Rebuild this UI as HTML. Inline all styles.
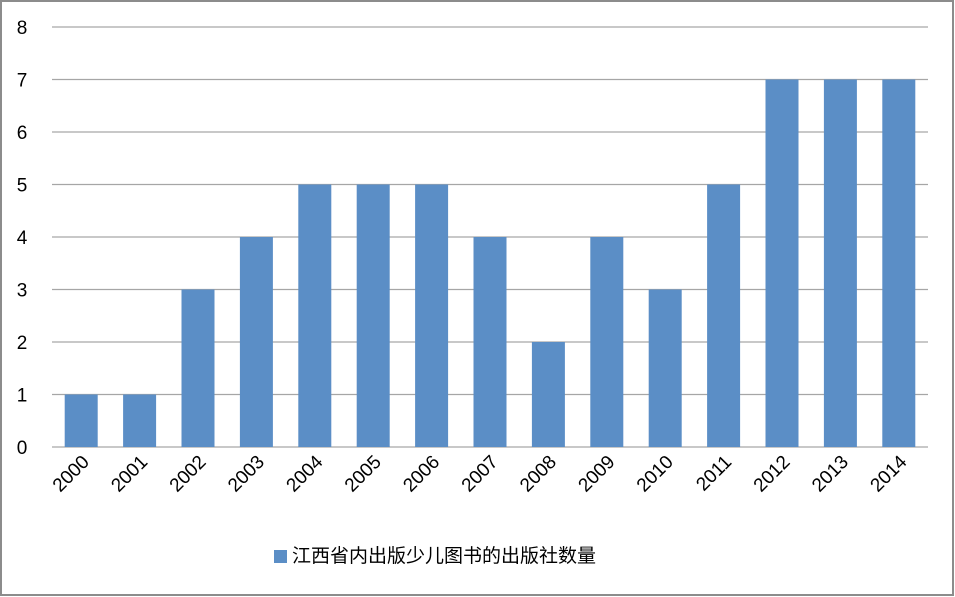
<!DOCTYPE html>
<html><head><meta charset="utf-8"><style>
html,body{margin:0;padding:0;background:#fff}
svg{display:block}
text{font-family:"Liberation Sans","Noto Sans CJK SC",sans-serif;fill:#000}
</style></head><body>
<svg width="955" height="597">
<rect x="1" y="1" width="952" height="594" fill="#fff" stroke="#8c8c8c" stroke-width="2"/>
<g id="grid"></g><g id="bars"></g><g id="ylabels"></g><g id="xlabels"></g>
<rect x="274" y="550" width="13" height="13" fill="#5b8ec6"/>
<text x="292" y="562" font-size="19">江西省内出版少儿图书的出版社数量</text>
</svg>
<script>
const categories=["2000","2001","2002","2003","2004","2005","2006","2007","2008","2009","2010","2011","2012","2013","2014"];
const values=[1,1,3,4,5,5,5,4,2,4,3,5,7,7,7];
const yTicks=[0,1,2,3,4,5,6,7,8];
const NS="http://www.w3.org/2000/svg";
const L=52,R=928,T=27,B=447,ymax=8;
const y=v=>B-(B-T)*v/ymax;
const band=(R-L)/categories.length;
const xc=i=>L+band*(i+0.5);
function mk(tag,attrs,parent){const e=document.createElementNS(NS,tag);for(const k in attrs)e.setAttribute(k,attrs[k]);document.getElementById(parent).appendChild(e);return e;}
yTicks.forEach(t=>{
 const g=mk('line',{x1:L,x2:R,y1:y(t),y2:y(t),stroke:'#a6a6a6','stroke-width':1.3},'grid');
 
 
 const tx=mk('text',{x:22,y:y(t)+7,'font-size':19,'text-anchor':'middle'},'ylabels');
 tx.textContent=t;
 
 
});
categories.forEach((c,i)=>{
 const w=33;
 const r=mk('rect',{x:xc(i)-w/2,y:y(values[i]),width:w,height:B-y(values[i]),fill:'#5b8ec6'},'bars');
 
 
 const tx=mk('text',{'font-size':19,'text-anchor':'end',transform:`translate(${xc(i)+9},${B+16}) rotate(-45)`},'xlabels');
 tx.textContent=c;
 
 
});
</script>
</body></html>
